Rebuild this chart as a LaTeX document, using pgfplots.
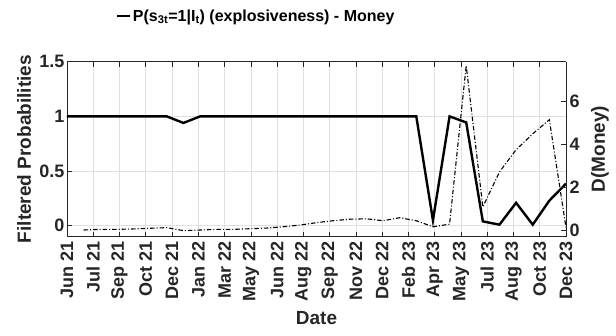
\documentclass[border=0pt]{standalone}
\usepackage{pgfplots}
\pgfplotsset{compat=1.18}
\usepackage{fontspec}
\setmainfont{Liberation Sans}
\definecolor{axc}{RGB}{38,38,38}
\definecolor{gridc}{RGB}{223,223,223}
\pgfplotstableread{
m p
0 1
1 1
2 1
3 1
4 1
5 1
6 1
7 0.94
8 1
9 1
10 1
11 1
12 1
13 1
14 1
15 1
16 1
17 1
18 1
19 1
20 1
21 1
22 0.05
23 1.0
24 0.945
25 0.04
26 0.01
27 0.21
28 0.01
29 0.23
30 0.385
}\probtab
\pgfplotstableread{
m d
1 0.03
2 0.06
3 0.06
4 0.08
5 0.11
6 0.14
7 0.0
8 0.03
9 0.06
10 0.06
11 0.09
12 0.12
13 0.18
14 0.26
15 0.37
16 0.46
17 0.53
18 0.55
19 0.46
20 0.6
21 0.46
22 0.18
23 0.3
24 7.65
25 1.1
26 2.72
27 3.75
28 4.49
29 5.14
30 0.15
}\moneytab
\begin{document}
\begin{tikzpicture}
\pgfplotsset{
  common/.style={
    scale only axis, width=499pt, height=175pt,
    at={(0,0)}, anchor=south west,
    xmin=0, xmax=30,
    axis line style={axc, line width=0.6pt},
    tick style={axc, line width=0.6pt},
    major tick length=5pt,
    tick align=inside,
    /pgf/number format/assume math mode=true,
    tick label style={font=\bfseries\fontsize{18}{18}\selectfont, text=axc},
    label style={font=\bfseries\fontsize{19}{19}\selectfont, text=axc},
  }
}
\begin{axis}[common,
  axis y line*=left,
  ymin=-0.1, ymax=1.5,
  ytick={0,0.5,1,1.5},
  yticklabels={0,0.5,1,1.5},
  xtick={0,1.5789,3.1579,4.7368,6.3158,7.8947,9.4737,11.0526,12.6316,14.2105,15.7895,17.3684,18.9474,20.5263,22.1053,23.6842,25.2632,26.8421,28.4211,30},
  xticklabels={Jun 21,Jul 21,Sep 21,Oct 21,Dec 21,Jan 22,Mar 22,May 22,Jun 22,Aug 22,Sep 22,Nov 22,Dec 22,Feb 23,Apr 23,May 23,Jul 23,Aug 23,Oct 23,Dec 23},
  x tick label style={rotate=90, anchor=east, xshift=-1pt},
  y tick label style={xshift=1pt},
  grid=major, grid style={gridc, line width=0.6pt},
  xlabel={Date},
  xlabel style={at={(axis description cs:0.5,-0.465)}, anchor=center},
  ylabel={Filtered Probabilities},
  ylabel style={at={(axis description cs:-0.0862,0.5)}, anchor=center},
  legend style={draw=none, fill=none, at={(axis description cs:0.379,1.26)}, anchor=center,
    font=\bfseries\fontsize{16}{16}\selectfont, text=black, inner sep=0pt},
  legend cell align=left,
  legend image post style={line width=2.2pt},
  legend image code/.code={\draw[#1] (0pt,0pt) -- (13pt,0pt);},
]
\addplot[black, line width=2.4pt, line join=miter] table[x=m, y=p] {\probtab};
\addlegendentry{P(s\textsubscript{3t}=1|I\textsubscript{t}) (explosiveness) - Money}
\end{axis}
\begin{axis}[common,
  axis y line*=right,
  axis x line=none,
  ymin=-0.28, ymax=7.83,
  ytick={0,2,4,6},
  ylabel={D(Money)},
  ylabel style={at={(axis description cs:1.068,0.5)}, anchor=center},
]
\addplot[black, line width=1.1pt, dash pattern=on 4.5pt off 2pt on 1pt off 2pt] table[x=m, y=d] {\moneytab};
\end{axis}
\pgfresetboundingbox
\path[use as bounding box] (-67pt,-98.3pt) rectangle (549pt,236.7pt);
\end{tikzpicture}
\end{document}
